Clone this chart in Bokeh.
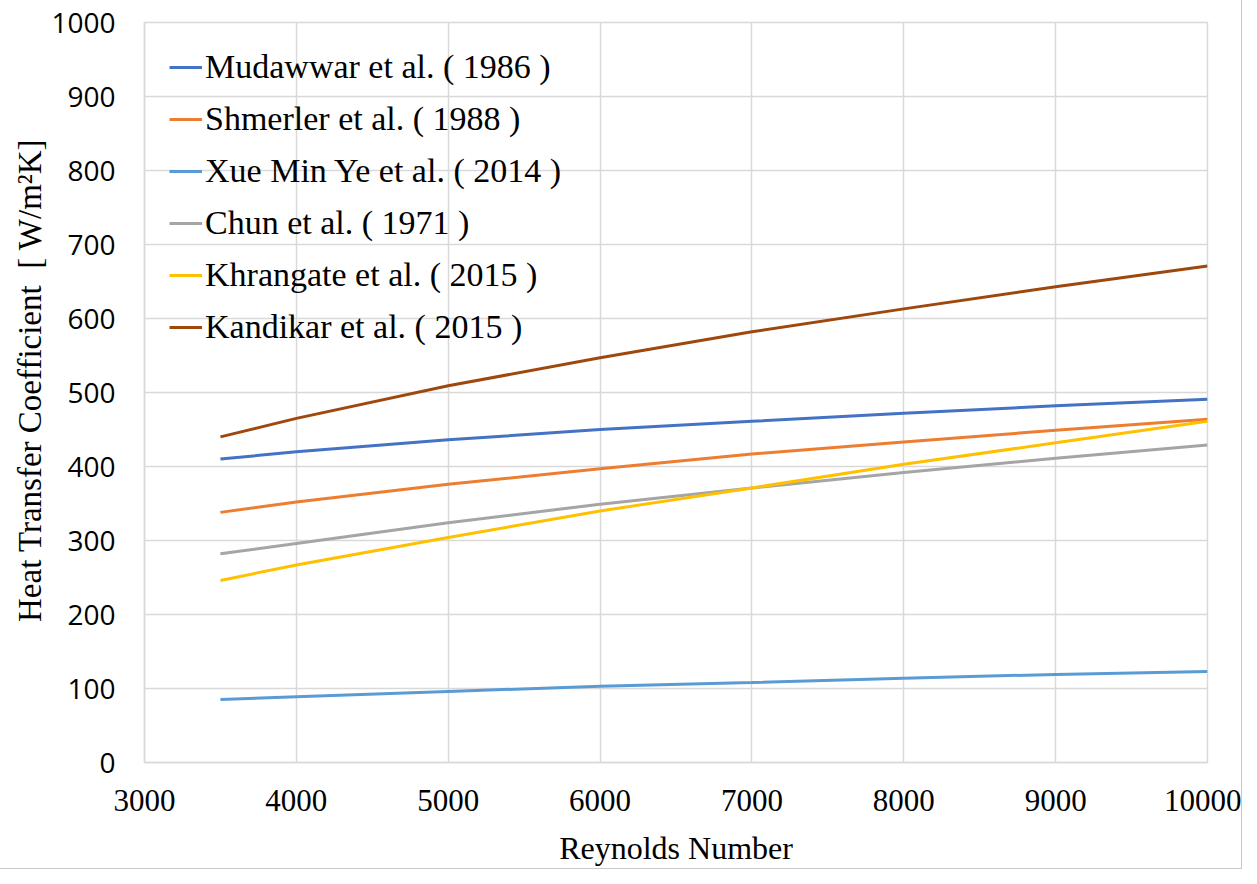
from bokeh.plotting import figure
from bokeh.models import Legend, LegendItem, FixedTicker
from bokeh.embed import file_html
from bokeh.resources import INLINE

reynolds = [3500, 4000, 5000, 6000, 7000, 8000, 9000, 10000]

mudawwar = [410, 420, 436, 450, 461, 472, 482, 491]
shmerler = [338, 352, 376, 397, 417, 433, 449, 464]
xue_min_ye = [85, 89, 96, 103, 108, 114, 119, 123]
chun = [282, 296, 324, 349, 371, 392, 411, 429]
khrangate = [246, 267, 304, 340, 371, 403, 432, 461]
kandikar = [440, 465, 509, 547, 582, 613, 643, 671]

series_names = [
    "Mudawwar et al. ( 1986 )",
    "Shmerler et al. ( 1988 )",
    "Xue Min Ye et al. ( 2014 )",
    "Chun et al. ( 1971 )",
    "Khrangate et al. ( 2015 )",
    "Kandikar et al. ( 2015 )",
]
series_values = [mudawwar, shmerler, xue_min_ye, chun, khrangate, kandikar]
series_colors = ["#4472C4", "#ED7D31", "#5B9BD5", "#A5A5A5", "#FFC000", "#9E480E"]

x_ticks = [3000, 4000, 5000, 6000, 7000, 8000, 9000, 10000]
y_ticks = [0, 100, 200, 300, 400, 500, 600, 700, 800, 900, 1000]

GRID = "#d9d9d9"
NB = "\u00a0"

p = figure(
    width=1241, height=868,
    x_range=(3000, 10000), y_range=(0, 1000),
    output_backend="svg", toolbar_location=None,
    min_border_left=144, min_border_right=34,
    min_border_top=22, min_border_bottom=105,
)
p.styles = {"outline": "1px solid #c8c8c8"}
p.outline_line_color = GRID
p.outline_line_width = 1.5
p.background_fill_color = "white"
p.border_fill_color = "white"

renderers = []
for name, vals, col in zip(series_names, series_values, series_colors):
    r = p.line(reynolds, vals, line_color=col, line_width=3)
    renderers.append((name, r))

# grid
p.xgrid.ticker = FixedTicker(ticks=x_ticks)
p.ygrid.ticker = FixedTicker(ticks=y_ticks)
for g in (p.xgrid, p.ygrid):
    g.grid_line_color = GRID
    g.grid_line_width = 1.5

# x axis
xa = p.xaxis[0]
xa.ticker = FixedTicker(ticks=x_ticks)
xa.axis_label = "Reynolds Number"
xa.axis_label_text_font = "Liberation Serif"
xa.axis_label_text_font_style = "normal"
xa.axis_label_text_font_size = "32px"
xa.axis_label_text_color = "black"
xa.axis_label_standoff = 16
xa.major_label_text_font = "Liberation Serif"
xa.major_label_text_font_size = "31px"
xa.major_label_text_color = "black"
xa.major_label_standoff = 21
xa.major_tick_line_color = None
xa.minor_tick_line_color = None
xa.axis_line_color = GRID
xa.axis_line_width = 1.5

# y axis
ya = p.yaxis[0]
ya.ticker = FixedTicker(ticks=y_ticks)
ya.axis_label = NB * 3 + "Heat Transfer Coefficient" + NB + " [ W/m\u00b2K]"
ya.axis_label_text_font = "Liberation Serif"
ya.axis_label_text_font_style = "normal"
ya.axis_label_text_font_size = "33px"
ya.axis_label_text_color = "black"
ya.axis_label_standoff = 0
ya.major_label_text_font = "Open Sans"
ya.major_label_text_font_size = "28px"
ya.major_label_text_color = "black"
ya.major_label_standoff = 23
ya.major_tick_line_color = None
ya.minor_tick_line_color = None
ya.axis_line_color = GRID
ya.axis_line_width = 1.5

legend = Legend(
    items=[LegendItem(label=n, renderers=[r]) for n, r in renderers],
    location=(25, 409),
    orientation="vertical",
    padding=0, margin=0, spacing=0,
    label_height=52, glyph_height=20, glyph_width=33,
    label_standoff=3,
    label_text_font="Liberation Serif",
    label_text_font_size="34px",
    label_text_color="black",
    border_line_color=None,
    background_fill_alpha=0,
)
p.add_layout(legend, "center")

open("out.html", "w").write(file_html(p, INLINE))
